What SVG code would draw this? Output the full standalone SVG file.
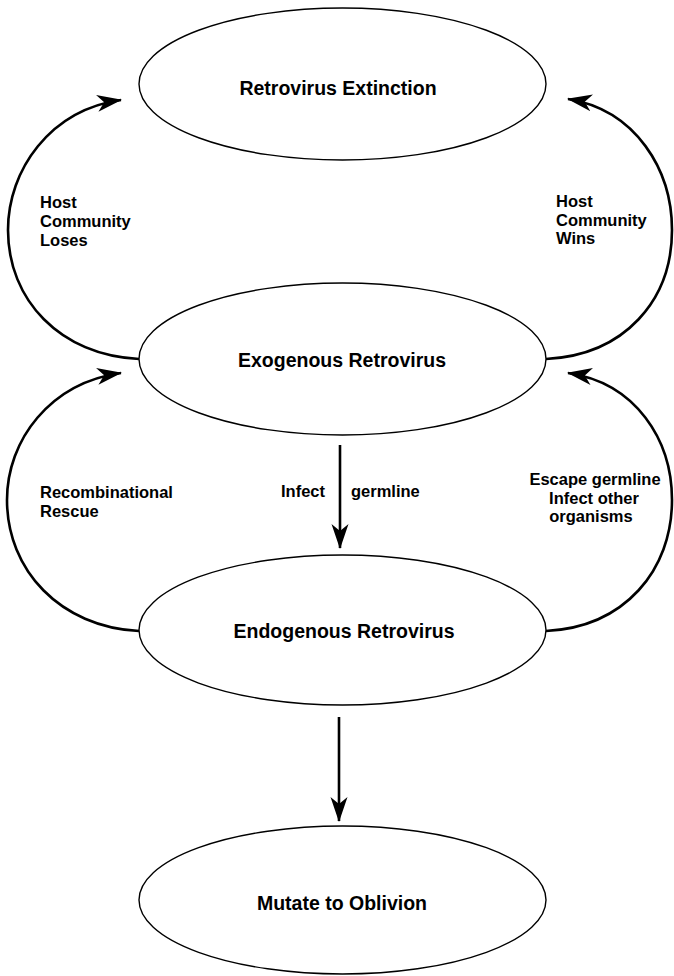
<svg xmlns="http://www.w3.org/2000/svg" width="674" height="976" viewBox="0 0 674 976">
  <style>
    .node ellipse { fill: #fff; stroke: #000; stroke-width: 1.4; }
    .node text { font-family: "Liberation Sans", Arial, Helvetica, sans-serif; font-weight: bold; font-size: 19.5px; text-anchor: middle; fill: #000; }
    .edge { fill: none; stroke: #000; stroke-width: 2.6; }
    .lbl { font-family: "Liberation Sans", Arial, Helvetica, sans-serif; font-weight: bold; font-size: 16.5px; fill: #000; }
  </style>
  <defs>
    <marker id="head" viewBox="-24 -9 26 18" refX="0" refY="0" markerUnits="userSpaceOnUse" markerWidth="26" markerHeight="18" orient="auto">
      <path d="M1,0 L-24,-8.5 L-17,0 L-24,8.5 Z" fill="#000"/>
    </marker>
  </defs>

  <rect width="674" height="976" fill="#fff"/>

  <!-- connectors -->
  <g id="edges">
    <!-- Exogenous -> Extinction (left, host community loses) -->
    <path class="edge" d="M139,359 C60,355 8,300 8,230 C8,170 50,110 121,100" marker-end="url(#head)"/>
    <!-- Exogenous -> Extinction (right, host community wins) -->
    <path class="edge" d="M546,359 C625,355 672,300 672,230 C672,170 636,110 568,99" marker-end="url(#head)"/>
    <!-- Endogenous -> Exogenous (left, recombinational rescue) -->
    <path class="edge" d="M139,631 C60,627 7,570 7,500 C7,440 50,383 121,373" marker-end="url(#head)"/>
    <!-- Endogenous -> Exogenous (right, escape germline) -->
    <path class="edge" d="M546,631 C625,627 672,570 672,500 C672,440 636,383 568,373" marker-end="url(#head)"/>
    <!-- Exogenous -> Endogenous -->
    <path class="edge" d="M340,445 L340,548" marker-end="url(#head)"/>
    <!-- Endogenous -> Mutate -->
    <path class="edge" d="M339,717 L339,821" marker-end="url(#head)"/>

    <text class="lbl" x="40" y="208">Host</text>
    <text class="lbl" x="40" y="227">Community</text>
    <text class="lbl" x="40" y="246">Loses</text>

    <text class="lbl" x="556" y="207">Host</text>
    <text class="lbl" x="556" y="226">Community</text>
    <text class="lbl" x="556" y="244">Wins</text>

    <text class="lbl" x="40" y="498">Recombinational</text>
    <text class="lbl" x="40" y="517">Rescue</text>

    <text class="lbl" x="325" y="497" text-anchor="end">Infect</text>
    <text class="lbl" x="351" y="497">germline</text>

    <text class="lbl" x="595" y="485" text-anchor="middle">Escape germline</text>
    <text class="lbl" x="594" y="504" text-anchor="middle">Infect other</text>
    <text class="lbl" x="591" y="522" text-anchor="middle">organisms</text>
  </g>

  <g id="extinction" class="node">
    <ellipse cx="342.5" cy="84" rx="203.5" ry="76"/>
    <text x="338" y="95">Retrovirus Extinction</text>
  </g>
  <g id="exogenous" class="node">
    <ellipse cx="342.5" cy="359" rx="203.5" ry="76"/>
    <text x="342" y="367">Exogenous Retrovirus</text>
  </g>
  <g id="endogenous" class="node">
    <ellipse cx="342.5" cy="630" rx="203.5" ry="75"/>
    <text x="344" y="638">Endogenous Retrovirus</text>
  </g>
  <g id="oblivion" class="node">
    <ellipse cx="342.5" cy="900" rx="203.5" ry="74"/>
    <text x="342" y="910">Mutate to Oblivion</text>
  </g>
</svg>
